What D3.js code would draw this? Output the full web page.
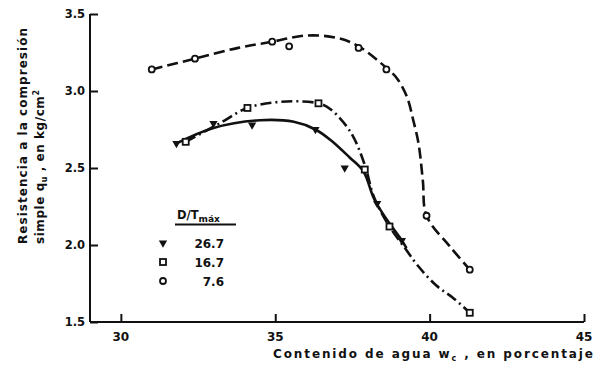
<!DOCTYPE html>
<html>
<head>
<meta charset="utf-8">
<script src="https://cdn.jsdelivr.net/npm/d3@7/dist/d3.min.js"></script>
<style>
  html, body { margin: 0; padding: 0; background: #fff; }
  svg { display: block; }
  text { font-family: "DejaVu Sans", sans-serif; font-weight: bold; fill: #111; }
</style>
</head>
<body>
<svg id="chart" width="607" height="373"></svg>
<script>
// Water content (%) and unconfined compressive strength (kg/cm²) per D/Tmáx group
const xTicks = [30, 35, 40, 45];
const yTicks = [1.5, 2.0, 2.5, 3.0, 3.5];
const groups = ["26.7", "16.7", "7.6"];

// Measured points
const w267 = [31.8, 33.0, 34.25, 36.3, 37.25, 38.3, 39.1];
const q267 = [2.66, 2.79, 2.78, 2.75, 2.50, 2.27, 2.03];
const w167 = [32.1, 34.1, 36.4, 37.9, 38.7, 41.3];
const q167 = [2.67, 2.89, 2.92, 2.49, 2.12, 1.56];
const w76  = [31.0, 32.4, 34.9, 35.45, 37.7, 38.6, 39.9, 41.3];
const q76  = [3.14, 3.21, 3.32, 3.29, 3.28, 3.14, 2.19, 1.84];

// Hand-fitted trend curves
const fitW267 = [31.8, 33.0, 34.5, 35.6, 36.3, 36.8, 37.4, 37.85, 38.2, 38.56, 39.1, 39.25];
const fitQ267 = [2.66, 2.76, 2.81, 2.80, 2.75, 2.68, 2.57, 2.48, 2.30, 2.18, 2.03, 1.98];
const fitW167 = [32.1, 33.2, 34.1, 35.2, 36.4, 36.8, 37.45, 37.9, 38.2, 38.7, 39.2, 39.6, 40.2, 40.8, 41.3];
const fitQ167 = [2.67, 2.79, 2.89, 2.93, 2.92, 2.88, 2.73, 2.52, 2.31, 2.12, 1.98, 1.87, 1.74, 1.65, 1.56];
const fitW76  = [31.0, 32.4, 33.8, 34.9, 36.0, 37.0, 37.7, 38.6, 38.95, 39.27, 39.47, 39.64, 39.78, 39.9, 40.66, 41.3];
const fitQ76  = [3.14, 3.21, 3.28, 3.32, 3.36, 3.345, 3.29, 3.15, 3.08, 2.96, 2.81, 2.66, 2.42, 2.19, 1.99, 1.84];

const svg = d3.select("#chart");
const x = d3.scaleLinear().domain([29, 45]).range([90, 584]);
const y = d3.scaleLinear().domain([1.5, 3.5]).range([322, 14]);

// Axes
const xAxis = svg.append("g").attr("transform", "translate(0,322)")
  .call(d3.axisTop(x).tickValues(xTicks).tickSize(8).tickFormat(""));
xAxis.select(".domain").attr("d", `M${x(29)},0H${x(45)}`);
const yAxis = svg.append("g").attr("transform", "translate(90,0)")
  .call(d3.axisRight(y).tickValues(yTicks).tickSize(8).tickFormat(""));
yAxis.select(".domain").attr("d", `M0,${y(3.5)}V${y(1.5)}`);
svg.selectAll(".domain, .tick line").attr("stroke", "#111").attr("stroke-width", 2);

svg.append("g").selectAll("text").data(xTicks).join("text")
  .attr("x", d => x(d)).attr("y", 341).attr("text-anchor", "middle")
  .attr("font-size", 12).text(d => d);
svg.append("g").selectAll("text").data(yTicks).join("text")
  .attr("x", 85).attr("y", d => y(d) + 4).attr("text-anchor", "end")
  .attr("font-size", 11.5).text(d => d3.format(".1f")(d));

// Axis titles
const xt = svg.append("text").attr("x", 273).attr("y", 358).attr("font-size", 12)
  .attr("textLength", 320).attr("lengthAdjust", "spacing");
xt.append("tspan").text("Contenido de agua w");
xt.append("tspan").attr("font-size", 8).attr("dy", 3).text("c");
xt.append("tspan").attr("dy", -3).text(" , en porcentaje");

const yt = svg.append("g").attr("transform", "translate(0,244) rotate(-90)");
yt.append("text").attr("x", 0).attr("y", 27).attr("font-size", 12)
  .attr("textLength", 216).attr("lengthAdjust", "spacing")
  .text("Resistencia a la compresión");
const yt2 = yt.append("text").attr("x", 0).attr("y", 44).attr("font-size", 12)
  .attr("textLength", 154).attr("lengthAdjust", "spacing");
yt2.append("tspan").text("simple q");
yt2.append("tspan").attr("font-size", 8).attr("dy", 3).text("u");
yt2.append("tspan").attr("dy", -3).text(" , en kg/cm");
yt2.append("tspan").attr("font-size", 8).attr("dy", -5).text("2");

// Curves
const line = d3.line().x(d => x(d[0])).y(d => y(d[1])).curve(d3.curveCatmullRom.alpha(0.5));
const zip = (a, b) => a.map((v, i) => [v, b[i]]);
const curveStyle = [
  { w: fitW267, q: fitQ267, dash: null },
  { w: fitW167, q: fitQ167, dash: "11,4,2,4" },
  { w: fitW76,  q: fitQ76,  dash: "11,5" }
];
curveStyle.forEach(c => {
  svg.append("path").attr("d", line(zip(c.w, c.q)))
    .attr("fill", "none").attr("stroke", "#111").attr("stroke-width", 2.6)
    .attr("stroke-dasharray", c.dash);
});

// Markers
const tri = d3.symbol().type(d3.symbolTriangle).size(30);
function drawTri(g, px, py) {
  g.append("path").attr("d", tri()).attr("transform", `translate(${px},${py}) rotate(180)`)
    .attr("fill", "#111");
}
function drawSq(g, px, py) {
  g.append("rect").attr("x", px - 3).attr("y", py - 3).attr("width", 6).attr("height", 6)
    .attr("fill", "#fff").attr("stroke", "#111").attr("stroke-width", 1.8);
}
function drawCirc(g, px, py) {
  g.append("circle").attr("cx", px).attr("cy", py).attr("r", 3)
    .attr("fill", "#fff").attr("stroke", "#111").attr("stroke-width", 1.8);
}
const mk = svg.append("g");
zip(w267, q267).forEach(d => drawTri(mk, x(d[0]), y(d[1])));
zip(w167, q167).forEach(d => drawSq(mk, x(d[0]), y(d[1])));
zip(w76, q76).forEach(d => drawCirc(mk, x(d[0]), y(d[1])));

// Legend
const lg = svg.append("g");
const head = lg.append("text").attr("x", 177).attr("y", 219).attr("font-size", 11.5);
head.append("tspan").text("D/T");
head.append("tspan").attr("font-size", 9).attr("dy", 3).text("máx");
lg.append("line").attr("x1", 175).attr("x2", 236).attr("y1", 224.5).attr("y2", 224.5)
  .attr("stroke", "#111").attr("stroke-width", 2);
const rowsY = [243, 262, 281];
const drawers = [drawTri, drawSq, drawCirc];
groups.forEach((g, i) => {
  drawers[i](lg, 163, rowsY[i]);
  lg.append("text").attr("x", 224).attr("y", rowsY[i] + 4.5).attr("text-anchor", "end")
    .attr("font-size", 12).text(g);
});
</script>
</body>
</html>
